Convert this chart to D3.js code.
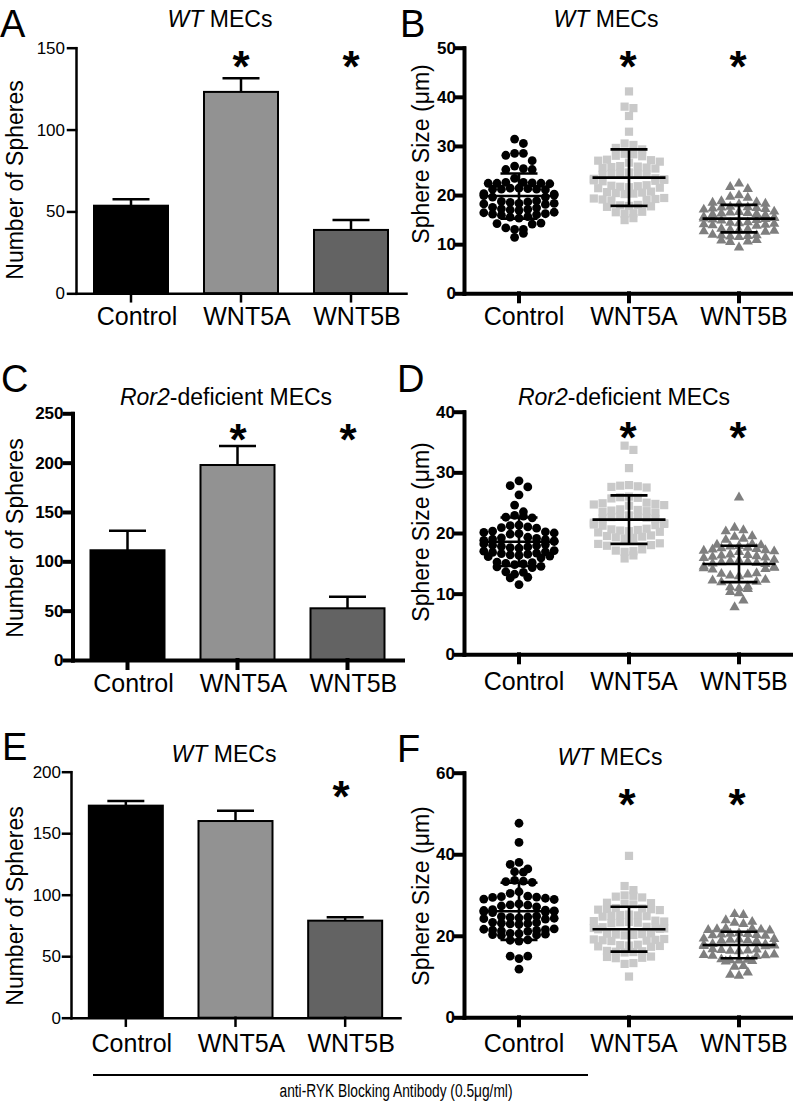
<!DOCTYPE html>
<html><head><meta charset="utf-8">
<script src="https://cdn.jsdelivr.net/npm/d3@7"></script>
<style>
body{margin:0;background:#fff}
svg{display:block}
text{font-family:"Liberation Sans",Arial,Helvetica,sans-serif;fill:#000}
</style>
</head><body>
<svg id="fig" width="793" height="1112"></svg>
<script>
// ---------------- DATA ----------------
const categories = ["Control", "WNT5A", "WNT5B"];

// Bar panels (Number of Spheres): mean and SEM
const barMeanA = [53.5, 123.0, 38.7];
const barSemA  = [3.9, 8.3, 6.1];
const barMeanC = [111.2, 197.6, 52.4];
const barSemC  = [19.9, 19.3, 11.8];
const barMeanE = [172.4, 159.9, 78.9];
const barSemE  = [3.8, 8.4, 2.7];

const yTicksA = [0, 50, 100, 150];
const yTicksC = [0, 50, 100, 150, 200, 250];
const yTicksE = [0, 50, 100, 150, 200];
const yTicksB = [0, 10, 20, 30, 40, 50];
const yTicksD = [0, 10, 20, 30, 40];
const yTicksF = [0, 20, 40, 60];

// Scatter panels (Sphere Size, um): mean and SD
const sizeMeanB = [19.8, 23.55, 15.2];
const sizeSdB   = [4.6, 5.75, 2.8];
const sizeMeanD = [18.55, 22.2, 14.9];
const sizeSdD   = [4.0, 4.0, 3.0];
const sizeMeanF = [26.0, 21.6, 17.75];
const sizeSdF   = [7.0, 5.5, 3.25];

// Individual spheres
const sizeB_Control = [31.4, 30.5, 28.5, 28.1, 28.5, 27.0, 25.9, 25.4, 25.2, 25.2,
  23.4, 22.3, 22.4, 22.4, 22.5, 22.4, 22.6, 22.6, 21.4, 21.2, 21.1, 21.2, 21.3, 21.2, 21.4,
  20.2, 19.9, 19.6, 19.6, 20.0, 20.3, 18.3, 18.1, 18.6, 18.8, 18.7, 18.5, 18.2, 18.3,
  17.4, 17.1, 16.9, 17.0, 17.2, 17.5, 16.4, 16.1, 15.9, 16.0, 16.2, 16.5,
  15.6, 15.3, 15.5, 14.2, 13.3, 13.0, 12.2, 13.0, 14.1, 14.3, 11.4];
const sizeB_WNT5A = [41.1, 38.0, 37.7, 36.1, 32.9, 30.2, 30.5, 29.6, 29.3,
  28.3, 28.0, 28.4, 27.9, 27.1, 26.8, 27.0, 26.6, 27.2, 25.8, 25.6, 25.9, 25.5, 25.7, 25.4,
  24.4, 24.2, 24.5, 24.1, 24.6, 24.3, 23.2, 23.0, 22.9, 23.3, 23.1, 22.8, 23.4,
  21.8, 21.6, 21.9, 21.5, 21.7, 21.4, 22.0, 20.6, 20.4, 20.5, 20.2, 20.7, 20.3,
  19.3, 19.0, 19.2, 18.9, 19.4, 19.1, 17.9, 17.7, 18.0, 17.6, 17.8,
  16.5, 16.3, 16.6, 16.2, 15.3, 14.9];
const sizeB_WNT5B = [22.5, 21.8, 21.4, 20.1, 19.8, 19.6, 18.6, 18.3, 18.9, 18.4, 18.7,
  17.6, 17.4, 17.7, 17.3, 17.8, 17.5, 17.2, 16.5, 16.3, 16.6, 16.2, 16.7, 16.4, 16.1, 16.8,
  15.4, 15.2, 15.5, 15.1, 15.6, 15.3, 15.0, 15.7, 14.3, 14.1, 14.4, 14.0, 14.5, 14.2, 13.9, 14.6,
  13.1, 12.9, 13.2, 12.8, 13.3, 13.0, 12.7, 11.9, 11.7, 12.0, 11.6, 12.1, 11.8,
  10.9, 10.7, 11.0, 10.6, 9.5];

const sizeD_Control = [28.6, 27.8, 27.6, 26.3, 24.6, 23.5, 22.9, 22.6, 22.5, 22.8,
  21.2, 20.9, 21.0, 21.3, 20.8, 20.1, 19.9, 20.2, 19.8, 20.0, 20.3,
  19.0, 18.8, 19.1, 18.7, 19.2, 18.9, 18.6, 19.3, 17.9, 17.7, 18.0, 17.6, 18.1, 17.8, 17.5, 18.2,
  16.9, 16.7, 17.0, 16.6, 17.1, 16.8, 16.5, 16.3, 16.1, 16.4, 15.9, 16.2,
  15.1, 14.9, 15.2, 14.8, 15.0, 14.4, 14.3, 14.5, 13.6, 13.5, 13.2, 12.7, 12.6, 11.5];
const sizeD_WNT5A = [34.4, 33.7, 30.7, 27.9, 27.6, 27.7, 27.5, 27.8, 26.0, 25.8, 25.9, 25.7,
  24.9, 24.7, 25.0, 24.6, 24.8, 24.5, 23.8, 23.6, 23.9, 23.5, 23.7, 23.4,
  22.7, 22.5, 22.8, 22.4, 22.6, 22.3, 22.9, 21.6, 21.4, 21.7, 21.3, 21.5, 21.2,
  20.5, 20.3, 20.6, 20.2, 20.4, 20.1, 20.7, 19.4, 19.2, 19.5, 19.1, 19.3, 19.6,
  18.2, 18.0, 18.3, 17.9, 17.0, 16.9, 17.1, 17.3, 16.3, 15.8];
const sizeD_WNT5B = [26.0, 21.0, 20.6, 20.4, 19.5, 19.2, 19.6, 19.0, 18.2, 18.0, 18.3, 17.9, 18.1,
  17.4, 17.2, 17.5, 17.1, 17.6, 17.3, 17.0, 17.7, 16.4, 16.2, 16.5, 16.1, 16.6, 16.3, 16.0,
  15.4, 15.2, 15.5, 15.1, 15.6, 15.3, 15.0, 15.7, 14.4, 14.2, 14.5, 14.1, 14.6, 14.3,
  13.3, 13.1, 13.4, 13.0, 13.5, 12.3, 12.1, 12.4, 12.0, 11.2, 10.9, 11.3, 11.0,
  10.4, 10.2, 9.0, 7.9];

const sizeF_Control = [47.6, 42.9, 38.0, 37.5, 36.4, 35.7, 35.6, 33.6, 33.3, 33.1, 33.4,
  30.4, 30.8, 29.6, 29.2, 29.4, 28.9, 29.0, 29.7, 29.5, 27.6, 27.3, 27.8, 27.1, 27.5,
  26.2, 26.0, 26.3, 25.9, 26.1, 25.8, 26.4, 25.7, 24.6, 24.4, 24.7, 24.3, 24.5, 24.2, 24.8, 24.1,
  23.1, 22.9, 23.2, 22.8, 23.0, 23.3, 21.5, 21.3, 21.6, 21.2, 21.4, 21.7, 21.1,
  20.4, 20.2, 20.5, 20.1, 20.3, 20.6, 19.0, 18.7, 18.9, 15.0, 14.4, 15.0, 11.8];
const sizeF_WNT5A = [39.6, 32.2, 31.2, 29.8, 29.6, 29.9, 29.4, 28.0, 27.8, 28.1, 27.7,
  26.6, 26.4, 26.7, 26.3, 26.5, 26.8, 25.0, 24.8, 25.1, 24.7, 24.9, 25.2,
  23.5, 23.3, 23.6, 23.2, 23.4, 23.7, 23.1, 22.0, 21.8, 22.1, 21.7, 21.9, 22.2, 21.6,
  20.4, 20.2, 20.5, 20.1, 20.3, 20.6, 19.0, 18.8, 19.1, 18.7, 18.9, 19.2,
  17.6, 17.4, 17.7, 17.3, 17.5, 17.8, 16.2, 16.0, 16.3, 15.9, 16.1,
  14.8, 14.6, 14.9, 14.5, 13.3, 13.1, 10.0];
const sizeF_WNT5B = [25.5, 25.3, 24.0, 23.6, 23.1, 23.4, 21.8, 21.6, 21.9, 21.5, 21.7, 22.0,
  20.6, 20.4, 20.7, 20.3, 20.5, 20.8, 20.2, 19.3, 19.1, 19.4, 19.0, 19.2, 19.5, 18.9,
  18.0, 17.8, 18.1, 17.7, 17.9, 18.2, 17.6, 16.7, 16.5, 16.8, 16.4, 16.6, 16.9,
  15.5, 15.3, 15.6, 15.2, 15.4, 14.2, 14.0, 14.3, 13.9, 14.1, 14.4, 12.8, 12.6,
  11.2, 10.6, 10.4];

// ---------------- STYLE ----------------
const barFill = ["#000000", "#929292", "#636363"];
const dotFill = ["#000000", "#c9c9c9", "#7f7f7f"];
const svg = d3.select("#fig");

function letter(t, x, y) {
  svg.append("text").attr("x", x).attr("y", y).attr("font-size", 38).text(t);
}
function title(parts, cx, y) {
  const t = svg.append("text").attr("x", cx).attr("y", y).attr("text-anchor", "middle").attr("font-size", 23);
  parts.forEach(p => t.append("tspan").attr("font-style", p[1] ? "italic" : "normal").text(p[0]));
}
function ylabel(txt, x, y) {
  svg.append("text").attr("transform", `translate(${x},${y}) rotate(-90)`)
    .attr("text-anchor", "middle").attr("font-size", 23).text(txt);
}
function star(cx, cy) {
  svg.append("text").attr("x", cx).attr("y", cy + 25).attr("text-anchor", "middle")
    .attr("font-size", 44).attr("font-weight", "bold").text("*");
}

function axes(g, x, y, cfg, ticks) {
  const ya = d3.axisLeft(y).tickValues(ticks).tickSize(cfg.tick).tickPadding(cfg.pad).tickSizeOuter(0);
  const yg = g.append("g").attr("transform", `translate(${cfg.x0},0)`).call(ya);
  yg.selectAll("path,line").attr("stroke", "#000").attr("stroke-width", cfg.aw).attr("stroke-linecap", "square");
  yg.selectAll("text").attr("font-size", cfg.tfs).attr("font-weight", cfg.bold ? "bold" : "normal")
    .attr("font-family", "Liberation Sans, Arial, sans-serif").attr("fill", "#000");
  const xa = d3.axisBottom(x).tickSize(8).tickSizeOuter(0).tickFormat("");
  const xg = g.append("g").attr("transform", `translate(0,${cfg.y0})`).call(xa);
  xg.selectAll("path,line").attr("stroke", "#000").attr("stroke-width", cfg.aw).attr("stroke-linecap", "square");
  categories.forEach(c => {
    g.append("text").attr("x", x(c) + x.bandwidth() / 2 + cfg.labOff).attr("y", cfg.catY)
      .attr("text-anchor", "middle").attr("font-size", 25).text(c);
  });
}

function barPanel(cfg, means, sems, ticks) {
  const g = svg.append("g");
  const x = d3.scaleBand().domain(categories).range([cfg.x0, cfg.x1]);
  const y = d3.scaleLinear().domain([0, cfg.max]).range([cfg.y0, cfg.y1]);
  const bw = 74;
  categories.forEach((c, i) => {
    const cx = x(c) + x.bandwidth() / 2;
    g.append("line").attr("x1", cx).attr("x2", cx).attr("y1", y(means[i])).attr("y2", y(means[i] + sems[i]))
      .attr("stroke", "#000").attr("stroke-width", 2.5);
    g.append("line").attr("x1", cx - 18.5).attr("x2", cx + 18.5).attr("y1", y(means[i] + sems[i])).attr("y2", y(means[i] + sems[i]))
      .attr("stroke", "#000").attr("stroke-width", 2.5);
    g.append("rect").attr("x", cx - bw / 2).attr("width", bw).attr("y", y(means[i])).attr("height", cfg.y0 - y(means[i]))
      .attr("fill", barFill[i]).attr("stroke", "#000").attr("stroke-width", 2);
  });
  axes(g, x, y, cfg, ticks);
}

function swarm(values, y, rowGap, spacing, center, maxN) {
  const sorted = values.slice().sort((a, b) => b - a);
  const rows = []; let cur = null;
  sorted.forEach(v => {
    const py = y(v);
    if (!cur || py - cur.y0 > rowGap || cur.pts.length >= maxN) { cur = { y0: py, pts: [] }; rows.push(cur); }
    cur.pts.push(v);
  });
  const out = [];
  rows.forEach(r => {
    const n = r.pts.length;
    const pts = r.pts.slice();
    if (d3.mean(pts) < center) pts.sort((a, b) => a - b); else pts.sort((a, b) => b - a);
    const slots = d3.range(n).map(i => i - (n - 1) / 2).sort((a, b) => Math.abs(a) - Math.abs(b) || a - b);
    pts.forEach((v, i) => out.push({ v, dx: slots[i] * spacing }));
  });
  return out;
}

function scatterPanel(cfg, groups, means, sds, ticks) {
  const g = svg.append("g");
  const x = d3.scaleBand().domain(categories).range([cfg.x0, cfg.x1]);
  const y = d3.scaleLinear().domain([0, cfg.max]).range([cfg.y0, cfg.y1]);
  const tri = d3.symbol().type(d3.symbolTriangle).size(46);
  categories.forEach((c, i) => {
    const cx = x(c) + x.bandwidth() / 2;
    const pts = swarm(groups[i], y, cfg.rowGap, 8.8, means[i], 9);
    pts.forEach(p => {
      const px = cx + p.dx, py = y(p.v);
      if (i === 0) g.append("circle").attr("cx", px).attr("cy", py).attr("r", 4.4).attr("fill", dotFill[0]);
      else if (i === 1) g.append("rect").attr("x", px - 4.1).attr("y", py - 4.1).attr("width", 8.2).attr("height", 8.2).attr("fill", dotFill[1]);
      else g.append("path").attr("d", tri).attr("transform", `translate(${px},${py + 0.8})`).attr("fill", dotFill[2]);
    });
  });
  categories.forEach((c, i) => {
    const cx = x(c) + x.bandwidth() / 2;
    const m = means[i], s = sds[i];
    const ln = (x1, x2, y1, y2) => g.append("line").attr("x1", x1).attr("x2", x2).attr("y1", y1).attr("y2", y2)
      .attr("stroke", "#000").attr("stroke-width", 2.6);
    ln(cx - 36.5, cx + 36.5, y(m), y(m));
    ln(cx, cx, y(m + s), y(m - s));
    ln(cx - 18.5, cx + 18.5, y(m + s), y(m + s));
    ln(cx - 18.5, cx + 18.5, y(m - s), y(m - s));
  });
  axes(g, x, y, cfg, ticks);
}

// ---------------- LAYOUT ----------------
// Row 1
barPanel({ x0: 76, x1: 406, y0: 293.3, y1: 47.7, max: 150, aw: 2.5, tick: 8, pad: 3, tfs: 17, bold: false, catY: 325, labOff: 6 },
  barMeanA, barSemA, yTicksA);
scatterPanel({ x0: 464, x1: 794, y0: 293.3, y1: 47.7, max: 50, aw: 4, tick: 7, pad: 1, tfs: 17, bold: true, catY: 325, labOff: 5, rowGap: 8.5 },
  [sizeB_Control, sizeB_WNT5A, sizeB_WNT5B], sizeMeanB, sizeSdB, yTicksB);
// Row 2
barPanel({ x0: 72.5, x1: 402.5, y0: 660, y1: 413.3, max: 250, aw: 4, tick: 8, pad: 1, tfs: 17, bold: true, catY: 692, labOff: 6 },
  barMeanC, barSemC, yTicksC);
scatterPanel({ x0: 464, x1: 794, y0: 654.3, y1: 411.7, max: 40, aw: 4, tick: 8, pad: 1, tfs: 17, bold: true, catY: 690, labOff: 5, rowGap: 8.5 },
  [sizeD_Control, sizeD_WNT5A, sizeD_WNT5B], sizeMeanD, sizeSdD, yTicksD);
// Row 3
barPanel({ x0: 71, x1: 400, y0: 1017.7, y1: 771.7, max: 200, aw: 2.5, tick: 8, pad: 2, tfs: 17, bold: false, catY: 1051.5, labOff: 6 },
  barMeanE, barSemE, yTicksE);
scatterPanel({ x0: 464, x1: 794, y0: 1017.3, y1: 772.7, max: 60, aw: 4, tick: 8, pad: 1, tfs: 17, bold: true, catY: 1051.5, labOff: 5, rowGap: 8.5 },
  [sizeF_Control, sizeF_WNT5A, sizeF_WNT5B], sizeMeanF, sizeSdF, yTicksF);

// Panel letters
letter("A", 0, 37); letter("B", 400, 37);
letter("C", 1, 392); letter("D", 397, 392);
letter("E", 2, 760); letter("F", 397, 762);

// Titles
title([["WT", true], [" MECs", false]], 220, 27);
title([["WT", true], [" MECs", false]], 606, 27);
title([["Ror2", true], ["-deficient MECs", false]], 226, 405);
title([["Ror2", true], ["-deficient MECs", false]], 624, 405);
title([["WT", true], [" MECs", false]], 224, 762);
title([["WT", true], [" MECs", false]], 610, 765);

// Y labels
ylabel("Number of Spheres", 23, 180);
ylabel("Sphere Size (\u03bcm)", 429, 154);
ylabel("Number of Spheres", 23, 538);
ylabel("Sphere Size (\u03bcm)", 429, 532);
ylabel("Number of Spheres", 23, 906);
ylabel("Sphere Size (\u03bcm)", 429, 896);

// Significance stars
star(241, 57); star(351, 57);
star(628, 57); star(738, 57);
star(238, 430); star(348, 430);
star(628, 428); star(738, 428);
star(341, 787);
star(627, 795); star(737, 795);

// Bottom bracket and label
svg.append("line").attr("x1", 93).attr("x2", 588).attr("y1", 1075).attr("y2", 1075).attr("stroke", "#000").attr("stroke-width", 2);
svg.append("text").attr("x", 396).attr("y", 1097).attr("text-anchor", "middle").attr("font-size", 18)
  .attr("textLength", 233).attr("lengthAdjust", "spacingAndGlyphs")
  .text("anti-RYK Blocking Antibody (0.5\u03bcg/ml)");
</script>
</body></html>
